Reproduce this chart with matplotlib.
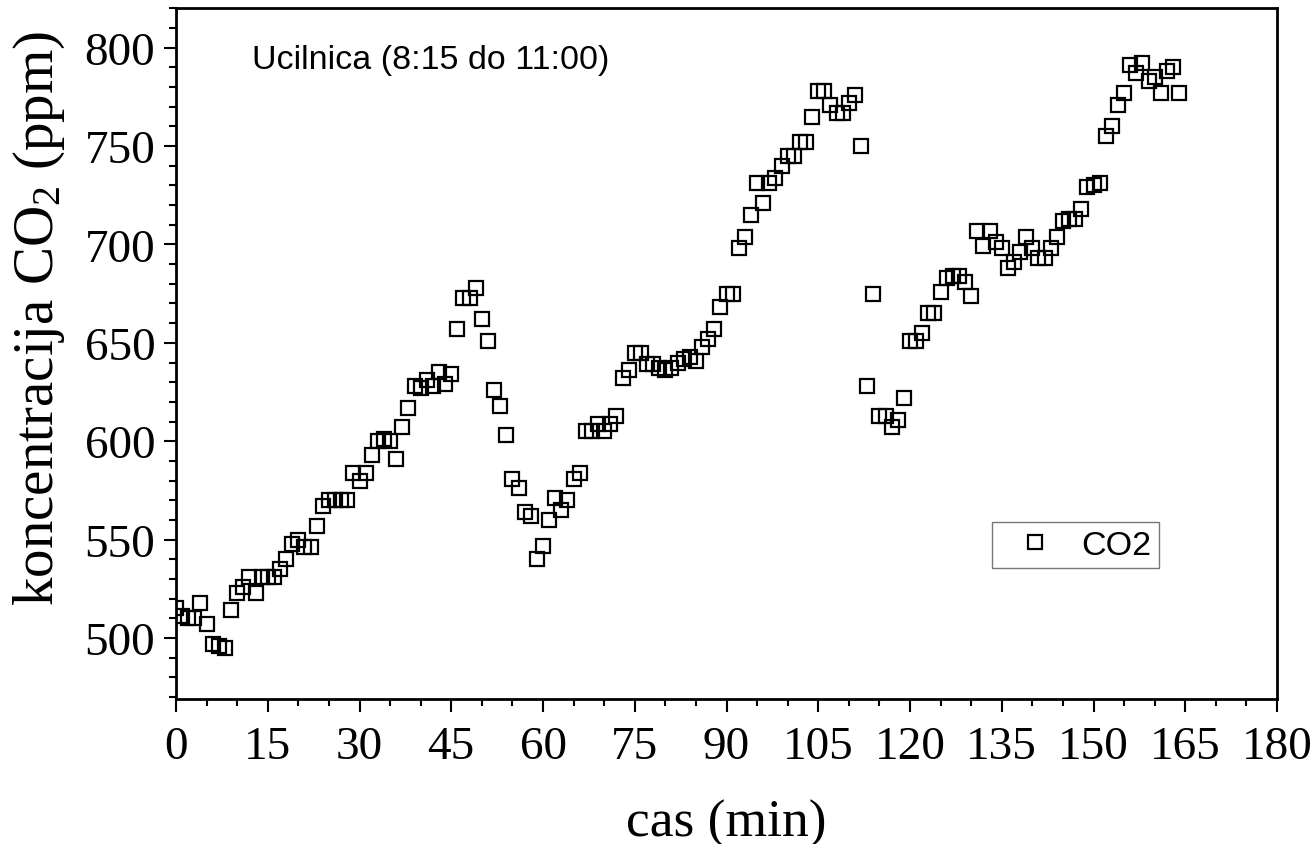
import matplotlib
matplotlib.use("Agg")
import matplotlib.pyplot as plt
from matplotlib.ticker import MultipleLocator

plt.rcParams['mathtext.fontset'] = 'custom'
plt.rcParams['mathtext.rm'] = 'Liberation Serif'
plt.rcParams['mathtext.it'] = 'Liberation Serif:italic'

# time in minutes
cas_min = list(range(0, 165))
# CO2 concentration (ppm)
co2_ppm = [
    515, 511, 510, 510, 518, 507, 497, 496, 495, 514,
    523, 526, 531, 523, 531, 531, 531, 535, 540, 548,
    550, 546, 546, 557, 567, 570, 570, 570, 570, 584,
    580, 584, 593, 600, 601, 600, 591, 607, 617, 628,
    627, 631, 628, 635, 629, 634, 657, 673, 673, 678,
    662, 651, 626, 618, 603, 581, 576, 564, 562, 540,
    547, 560, 571, 565, 570, 581, 584, 605, 605, 609,
    605, 609, 613, 632, 636, 645, 645, 639, 639, 637,
    636, 637, 640, 642, 643, 641, 648, 652, 657, 668,
    675, 675, 698, 704, 715, 731, 721, 731, 734, 740,
    745, 745, 752, 752, 765, 778, 778, 771, 767, 767,
    772, 776, 750, 628, 675, 613, 613, 607, 611, 622,
    651, 651, 655, 665, 665, 676, 683, 684, 684, 681,
    674, 707, 699, 707, 701, 698, 688, 691, 696, 704,
    698, 693, 693, 698, 704, 712, 713, 713, 718, 729,
    730, 731, 755, 760, 771, 777, 791, 787, 792, 783,
    785, 777, 788, 790, 777,
]

x_ticks = [0, 15, 30, 45, 60, 75, 90, 105, 120, 135, 150, 165, 180]
y_ticks = [500, 550, 600, 650, 700, 750, 800]
series_label = "CO2"
note_text = "Ucilnica (8:15 do 11:00)"
x_label = "cas (min)"
y_label = r"koncentracija CO$_\mathrm{2}$ (ppm)"

W, H = 1312, 845
fig = plt.figure(figsize=(W / 100, H / 100), dpi=100)
ax = fig.add_axes([176 / W, 1 - 700 / H, (1277 - 176) / W, (700 - 9.3) / H])

ax.plot(cas_min, co2_ppm, linestyle='none', marker='s', markersize=9.6,
        markerfacecolor='none', markeredgecolor='black', markeredgewidth=1.6,
        label=series_label)

ax.set_xlim(0, 180)
ax.set_ylim(469, 820)
ax.set_xticks(x_ticks)
ax.set_yticks(y_ticks)
ax.xaxis.set_minor_locator(MultipleLocator(5))
ax.yaxis.set_minor_locator(MultipleLocator(10))

serif = 'Liberation Serif'
sans = 'Liberation Sans'
for lab in ax.get_xticklabels() + ax.get_yticklabels():
    lab.set_fontfamily(serif)
    lab.set_fontsize(34)

ax.tick_params(which='major', direction='out', length=9, width=1.5, pad=6)
ax.tick_params(which='minor', direction='out', length=5, width=1.5)
ax.tick_params(axis='x', which='major', pad=10)
for s in ax.spines.values():
    s.set_linewidth(2.0)

ax.set_xlabel(x_label, fontfamily=serif, fontsize=38.5, labelpad=22)
ax.set_ylabel(y_label, fontfamily=serif, fontsize=41)
ax.yaxis.set_label_coords(-0.099, 0.552)

ax.text(0.069, 0.926, note_text, transform=ax.transAxes, ha='left', va='center',
        fontfamily=sans, fontsize=24.5)

leg = ax.legend(loc='upper left', bbox_to_anchor=(0.741, 0.256), borderaxespad=0,
                frameon=True, fancybox=False, prop={'family': sans, 'size': 24.5},
                handlelength=2.1, handletextpad=0.3, borderpad=0.22, markerscale=1.0)
leg.get_frame().set_edgecolor('#555555')
leg.get_frame().set_linewidth(1.0)

fig.savefig("out.png", dpi=100)
